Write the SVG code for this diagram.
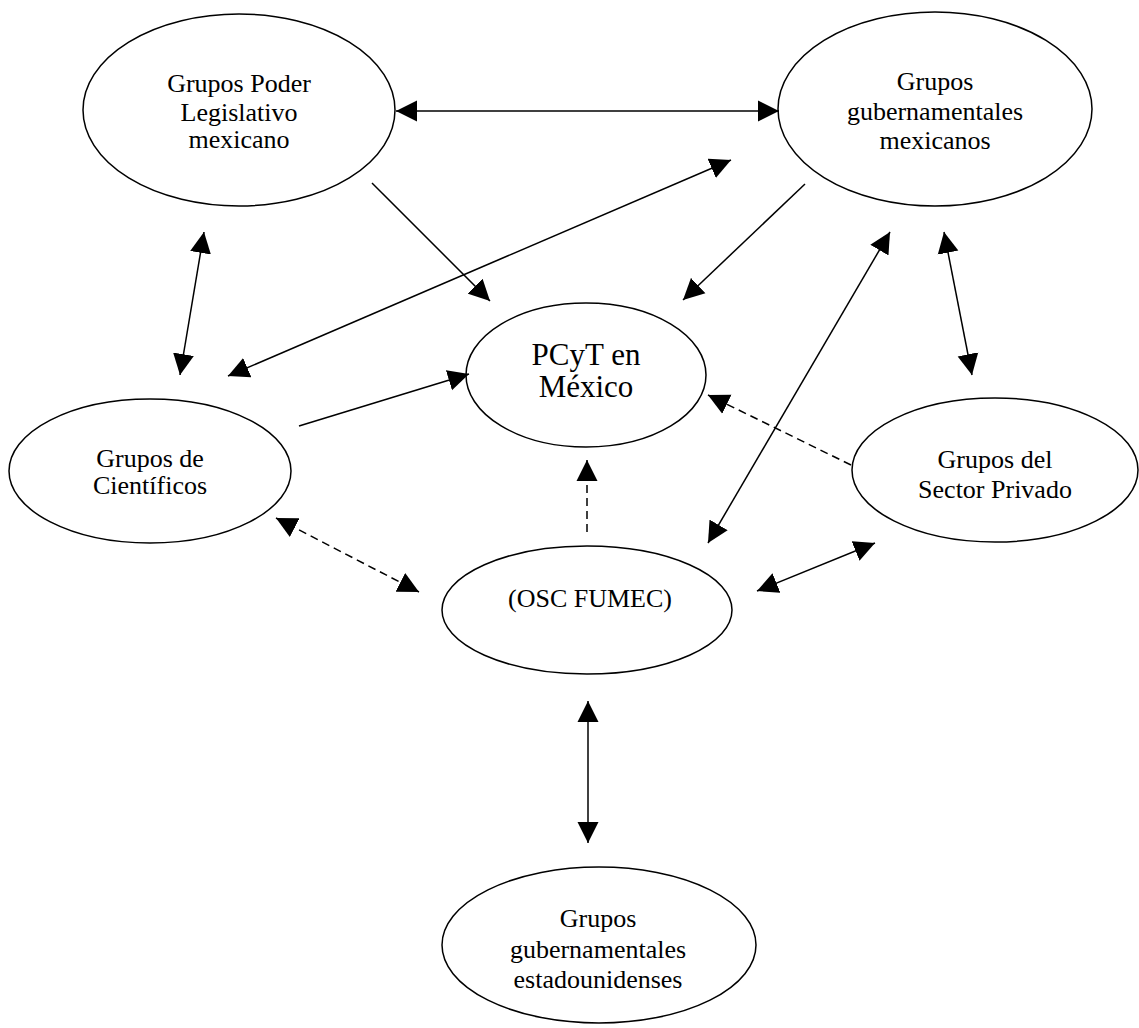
<svg xmlns="http://www.w3.org/2000/svg" width="1139" height="1028" viewBox="0 0 1139 1028">
<defs>
<marker id="ah" markerUnits="userSpaceOnUse" markerWidth="22" markerHeight="22" refX="21" refY="11" orient="auto-start-reverse" viewBox="0 0 22 22">
<path d="M0,0.5 L21,11 L0,21.5 z" fill="#000"/>
</marker>
<style>
.n ellipse{fill:#fff;stroke:#000;stroke-width:1.5}
.n text{font-family:"Liberation Serif","Times New Roman",serif;font-size:26px;text-anchor:middle;fill:#000}
.n text.big{font-size:31px}
.c line{stroke:#000;stroke-width:1.5;fill:none}
.c .d{stroke-dasharray:8 5}
.c .e{marker-end:url(#ah)}
.c .b{marker-start:url(#ah);marker-end:url(#ah)}
</style>
</defs>
<rect width="1139" height="1028" fill="#fff"/>
<g id="n-legislativo" class="n">
<ellipse cx="239" cy="110" rx="156" ry="96"/>
<text x="239" y="92">Grupos Poder</text>
<text x="239" y="121">Legislativo</text>
<text x="239" y="148">mexicano</text>
</g>
<g id="n-gubmx" class="n">
<ellipse cx="935" cy="109" rx="157" ry="97"/>
<text x="935" y="90">Grupos</text>
<text x="935" y="120">gubernamentales</text>
<text x="935" y="149">mexicanos</text>
</g>
<g id="n-cientificos" class="n">
<ellipse cx="150" cy="471" rx="141" ry="72"/>
<text x="150" y="467">Grupos de</text>
<text x="150" y="494">Científicos</text>
</g>
<g id="n-pcyt" class="n">
<ellipse cx="586" cy="375" rx="120" ry="72"/>
<text class="big" x="586" y="365">PCyT en</text>
<text class="big" x="586" y="397">México</text>
</g>
<g id="n-privado" class="n">
<ellipse cx="995" cy="470" rx="143" ry="72"/>
<text x="995" y="468">Grupos del</text>
<text x="995" y="498">Sector Privado</text>
</g>
<g id="n-fumec" class="n">
<ellipse cx="587" cy="610" rx="145" ry="64"/>
<text x="590" y="607">(OSC FUMEC)</text>
</g>
<g id="n-gubus" class="n">
<ellipse cx="599" cy="945" rx="157" ry="78"/>
<text x="598" y="927">Grupos</text>
<text x="598" y="958">gubernamentales</text>
<text x="598" y="988">estadounidenses</text>
</g>
<g id="connectors" class="c">
<line class="b" x1="396" y1="111" x2="779" y2="111"/>
<line class="e" x1="372" y1="183" x2="490" y2="301"/>
<line class="e" x1="805" y1="184" x2="683" y2="300"/>
<line class="b" x1="731" y1="160" x2="228" y2="376"/>
<line class="b" x1="204" y1="232" x2="180" y2="375"/>
<line class="e" x1="299" y1="426" x2="469" y2="374"/>
<line class="b" x1="890" y1="232" x2="708" y2="543"/>
<line class="b" x1="944" y1="232" x2="972" y2="375"/>
<line class="e d" x1="851" y1="465" x2="708" y2="395"/>
<line class="e d" x1="587" y1="532" x2="587" y2="460"/>
<line class="b d" x1="276" y1="518" x2="419" y2="592"/>
<line class="b" x1="757" y1="591" x2="875" y2="543"/>
<line class="b" x1="588" y1="701" x2="588" y2="843"/>
</g>
</svg>
